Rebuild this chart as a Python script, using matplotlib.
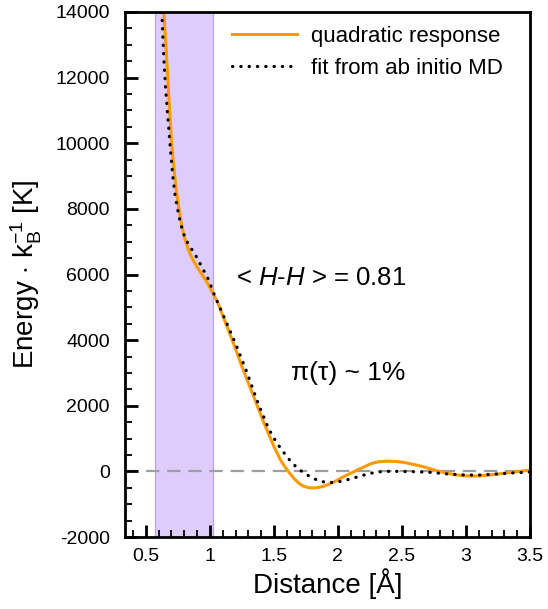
import matplotlib
matplotlib.use("Agg")
import matplotlib.pyplot as plt
from matplotlib.ticker import MultipleLocator, FuncFormatter

plt.rcParams['font.family'] = ['Liberation Sans', 'DejaVu Sans']
plt.rcParams['mathtext.fontset'] = 'custom'
plt.rcParams['mathtext.rm'] = 'Liberation Sans'
plt.rcParams['mathtext.it'] = 'Liberation Sans:italic'
plt.rcParams['axes.unicode_minus'] = False

# quadratic response curve
quad_x = [0.64, 0.66, 0.68, 0.70, 0.72, 0.74, 0.76, 0.78, 0.80, 0.83, 0.86, 0.90, 0.94, 0.98,
          1.01, 1.06, 1.10, 1.175, 1.25, 1.30, 1.35, 1.42, 1.50, 1.55, 1.58, 1.62, 1.66, 1.70,
          1.73, 1.77, 1.81, 1.85, 1.89, 1.93, 1.97, 2.04, 2.12, 2.16, 2.20, 2.26, 2.32, 2.39,
          2.46, 2.52, 2.58, 2.65, 2.72, 2.78, 2.85, 2.91, 2.98, 3.04, 3.10, 3.17, 3.24, 3.30,
          3.37, 3.43, 3.5]
quad_y = [14000, 12750, 11350, 10050, 9200, 8500, 7950, 7500, 7150, 6780, 6500, 6230, 5990, 5750,
          5530, 5150, 4750, 4000, 3200, 2700, 2200, 1500, 760, 360, 170, -40, -230, -380,
          -450, -495, -505, -490, -450, -390, -320, -170, -20, 60, 130, 240, 295, 310,
          300, 270, 220, 160, 80, 10, -55, -100, -130, -145, -140, -115, -85, -55,
          -20, 5, 40]

# fit from ab initio MD
fit_x = [0.625, 0.633, 0.64, 0.652, 0.665, 0.68, 0.69, 0.70, 0.71, 0.73, 0.76, 0.785, 0.81, 0.84,
         0.875, 0.91, 0.94, 0.98, 1.035, 1.08, 1.13, 1.21, 1.29, 1.36, 1.40, 1.46, 1.52, 1.58,
         1.62, 1.67, 1.73, 1.80, 1.86, 1.93, 2.0, 2.08, 2.16, 2.24, 2.30, 2.36, 2.47, 2.60,
         2.72, 2.83, 2.96, 3.09, 3.22, 3.35, 3.45, 3.5]
fit_y = [14000, 13220, 12600, 11800, 11100, 10400, 9900, 9450, 9000, 8360, 7750, 7350, 7080, 6870,
         6670, 6440, 6200, 5930, 5380, 4980, 4530, 3800, 3010, 2250, 1850, 1290, 880, 560,
         360, 150, -40, -200, -300, -345, -320, -250, -160, -70, -25, 0, 0, -10,
         -30, -70, -105, -115, -85, -50, -30, -20]

band_lo, band_hi = 0.57, 1.025
hh_text = r'< $\mathit{H}$-$\mathit{H}$ > = 0.81'
pi_text = 'π(τ) ~ 1%'
hh_pos = (1.207, 5900)
pi_pos = (1.634, 3010)

fig = plt.figure(figsize=(5.48, 6.09), dpi=100)
ax = fig.add_axes([125/548, 1 - 537/609, (530-125)/548, (537-12)/609])

ax.axvspan(band_lo, band_hi, facecolor='#ddccfc', edgecolor='#b9a0f2', linewidth=0.9, zorder=0)
ax.axhline(0, color='#9e9e9e', linestyle=(0, (6, 3.5)), linewidth=1.6, zorder=1)
ax.plot(quad_x, quad_y, color='#ff9900', linewidth=2.2, label='quadratic response', zorder=2,
        solid_joinstyle='round')
ax.plot(fit_x, fit_y, color='black', linestyle=(0, (0.1, 2.5)), linewidth=2.3,
        dash_capstyle='round', label='fit from ab initio MD', zorder=3)

ax.set_xlim(0.337, 3.5)
ax.set_ylim(-2000, 14000)
ax.xaxis.set_major_locator(MultipleLocator(0.5))
ax.xaxis.set_minor_locator(MultipleLocator(0.1))
ax.yaxis.set_major_locator(MultipleLocator(2000))
ax.yaxis.set_minor_locator(MultipleLocator(500))
ax.xaxis.set_major_formatter(FuncFormatter(lambda v, p: f'{v:g}'))
ax.yaxis.set_major_formatter(FuncFormatter(lambda v, p: f'{v:.0f}'))
ax.tick_params(which='both', direction='in', top=False, right=False, labelsize=14)
ax.tick_params(which='major', length=9, width=2)
ax.tick_params(which='minor', length=5, width=1.3)
ax.tick_params(axis='x', pad=8)
ax.tick_params(axis='y', pad=11)
for s in ax.spines.values():
    s.set_linewidth(2)

ax.set_xlabel('Distance [Å]', fontsize=20, labelpad=2)
ax.set_ylabel(r'Energy $\cdot$ $\mathregular{k_B^{-1}}$ [K]', fontsize=20, labelpad=8)

ax.text(hh_pos[0], hh_pos[1], hh_text, fontsize=18.5, va='center', ha='left')
ax.text(pi_pos[0], pi_pos[1], pi_text, fontsize=19, va='center', ha='left')

ax.legend(loc='upper right', bbox_to_anchor=(0.955, 0.99), frameon=False, fontsize=16,
          handlelength=2.9, handletextpad=0.65, borderaxespad=0.0, labelspacing=0.5)

fig.savefig('out.png', dpi=100)
